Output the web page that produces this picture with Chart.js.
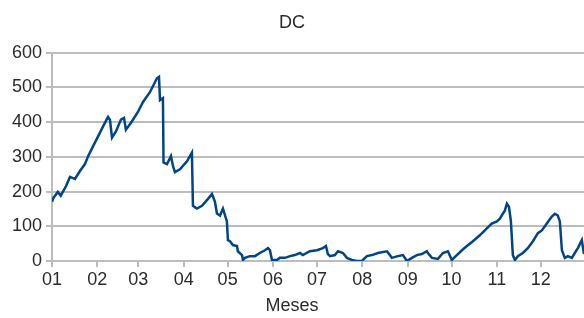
<!DOCTYPE html>
<html>
<head>
<meta charset="utf-8">
<script src="https://cdn.jsdelivr.net/npm/chart.js@4/dist/chart.umd.min.js"></script>
<style>
  html, body { margin: 0; padding: 0; background: #fff; overflow: hidden; }
  #wrap { width: 584px; height: 318px; position: relative; }
</style>
</head>
<body>
<div id="wrap"><canvas id="dcChart"></canvas></div>
<script>
// --- Datos (día del año -> valor) ---
const monthLabels = ['01', '02', '03', '04', '05', '06', '07', '08', '09', '10', '11', '12'];
const monthStartDays = [0, 31, 59, 90, 120, 151, 181, 212, 243, 273, 304, 334];
const yTicks = [0, 100, 200, 300, 400, 500, 600];

const dcDays = [
  0, 1, 4, 6, 9.6, 12.3, 15.7, 19.1, 22.5, 24.6, 28, 31.4, 34.8, 38.3, 39.6, 41, 43.7, 47.1, 49.2, 50.5,
  54, 58.7, 62.2, 66.9, 71.7, 73.1, 73.8, 75.8, 76.2, 78.6, 81.3, 82.7, 84, 87.4, 92.2, 95.6, 96.3, 99,
  102.5, 106.6, 109.3, 111.3, 112.7, 114.8, 116.8, 119.5, 120.2, 121.6, 123.6, 126.4, 127, 129.8, 130.5,
  131.8, 135.2, 138.7, 142, 145.5, 147.5, 148.9, 150.3, 153.7, 155.7, 159.2, 162.6, 166, 169.4, 171.4,
  176.2, 181, 185.1, 187.2, 188.5, 190, 193.3, 195.4, 198.8, 201.5, 204.9, 208.3, 211.7, 215.2, 218.6,
  222.7, 228.8, 230.9, 232.2, 236.3, 239.8, 242.5, 245.9, 249.3, 252.7, 256.1, 256.8, 259.6, 263.7,
  267.1, 270.5, 273.2, 276.6, 280.1, 283.5, 287.6, 292.3, 297.1, 300.5, 304, 306, 308, 309.4, 310.8,
  312.2, 313.5, 314.9, 316.3, 318.3, 321.7, 325.1, 328.6, 332, 334.7, 338.1, 341.5, 343.6, 345.6, 347,
  348.4, 350.4, 352.5, 355.2, 357.2, 359.3, 362, 363.5
];
const dcValues = [
  170, 182, 199, 188, 216, 242, 236, 259, 279, 301, 330, 358, 387, 415, 407, 355, 373, 407, 412, 378,
  398, 429, 458, 486, 526, 530, 463, 469, 284, 279, 302, 273, 256, 264, 287, 312, 159, 151,
  159, 179, 193, 171, 137, 131, 151, 114, 60, 57, 46, 43, 28, 17, 3,
  9, 14, 14, 23, 31, 37, 31, 3, 3, 9, 9, 14, 17, 23, 17,
  28, 31, 37, 43, 20, 14, 17, 28, 23, 9, 3, 0, 0, 14, 17,
  23, 28, 17, 9, 14, 17, 0, 9, 17, 20, 28, 23, 9, 6,
  23, 28, 3, 17, 31, 43, 57, 74, 94, 108, 114, 122, 136, 145, 165,
  156, 117, 17, 3, 14, 23, 37, 57, 80, 88, 108, 128, 136, 131, 114,
  31, 9, 14, 9, 23, 37, 60, 20
];

const textColor = '#2b2b2b';
const gridColor = '#bdbdbd';
const fontFamily = '"Liberation Sans", Arial, sans-serif';

document.addEventListener('DOMContentLoaded', () => {
    const ctx = document.getElementById('dcChart').getContext('2d');
    new Chart(ctx, {
        type: 'line',
        data: {
            datasets: [{
                label: 'DC',
                data: dcDays.map((d, i) => ({ x: d, y: dcValues[i] })),
                borderColor: '#004586',
                borderWidth: 2.5,
                pointRadius: 0,
                tension: 0,
                fill: false
            }]
        },
        options: {
            responsive: true,
            maintainAspectRatio: false,
            animation: false,
            layout: { padding: { left: 0, right: 0, top: 0, bottom: 0 } },
            scales: {
                x: {
                    type: 'linear',
                    min: 0,
                    max: 363.5,
                    afterBuildTicks: (scale) => {
                        scale.ticks = monthStartDays.map(v => ({ value: v }));
                    },
                    ticks: {
                        autoSkip: false,
                        maxRotation: 0,
                        padding: 2,
                        color: textColor,
                        font: { family: fontFamily, size: 18 },
                        callback: (value) => monthLabels[monthStartDays.indexOf(value)]
                    },
                    grid: {
                        drawOnChartArea: false,
                        drawTicks: true,
                        tickLength: 6,
                        color: gridColor,
                        lineWidth: 2
                    },
                    border: { display: true, color: gridColor, width: 2 },
                    title: { display: false }
                },
                y: {
                    min: 0,
                    max: 600,
                    afterBuildTicks: (scale) => {
                        scale.ticks = yTicks.map(v => ({ value: v }));
                    },
                    afterFit: (scale) => { scale.width = 52; },
                    ticks: {
                        padding: 4,
                        color: textColor,
                        font: { family: fontFamily, size: 18 }
                    },
                    grid: {
                        tickLength: 6,
                        color: gridColor,
                        lineWidth: 2
                    },
                    border: { display: true, color: gridColor, width: 2 }
                }
            },
            plugins: {
                legend: { display: false },
                tooltip: { enabled: false },
                title: {
                    display: true,
                    text: 'DC',
                    color: textColor,
                    font: { family: fontFamily, size: 18, weight: 'normal' },
                    padding: { top: 12, bottom: 19 }
                },
                subtitle: {
                    display: true,
                    position: 'bottom',
                    text: 'Meses',
                    color: textColor,
                    font: { family: fontFamily, size: 18, weight: 'normal' },
                    padding: { top: 2.6, bottom: 1.2 }
                }
            }
        }
    });
});
</script>
</body>
</html>
